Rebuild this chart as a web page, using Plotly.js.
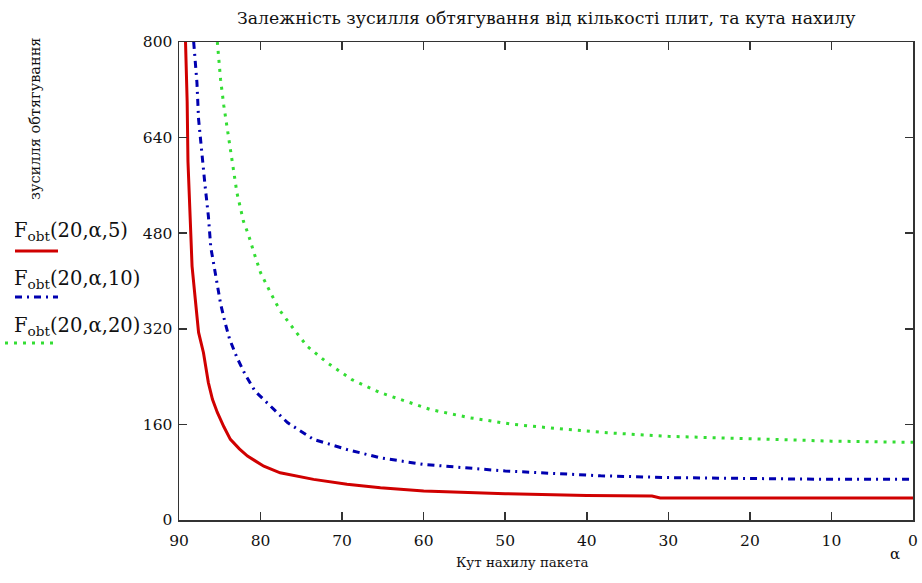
<!DOCTYPE html>
<html>
<head>
<meta charset="utf-8">
<script src="https://cdn.plot.ly/plotly-3.0.1.min.js"></script>
<style>html,body{margin:0;padding:0;background:#fff;}#chart{width:922px;height:583px;}</style>
</head>
<body>
<div id="chart"></div>
<script>
// Data
const alphaRed = [89.2, 89.0, 88.9, 88.6, 88.4, 88.0, 87.6, 87.0, 86.4, 85.9, 85.3, 84.5, 83.7, 82.6, 81.6, 79.6, 77.6, 73.5, 69.4, 65.3, 60, 50, 40, 32, 31, 0];
const fRed     = [800, 700, 600, 481, 425, 369, 314, 280, 230, 202, 180, 156, 135, 119, 107, 90, 79, 68, 60, 54, 48.5, 44, 41, 40, 37, 37];

const alphaBlue = [88.2, 87.8, 87.6, 87.2, 86.8, 86.4, 86.1, 85.7, 85.3, 84.9, 84.4, 83.8, 82.9, 81.9, 80.7, 76.7, 73.5, 69.4, 65.3, 60, 50, 38.3, 30, 20, 10, 0];
const fBlue     = [800, 732, 671, 609, 559, 509, 456, 425, 394, 362, 333, 303, 272, 244, 216, 163, 135, 118, 104, 93, 82, 74, 71, 69, 68, 68];

const alphaGreen = [85.3, 84.9, 84.5, 84.0, 83.5, 82.9, 82.1, 81.5, 80.8, 80.0, 78.8, 77.6, 75.9, 74.3, 71.8, 68.8, 65.3, 59.2, 54.3, 49.0, 42.8, 37.5, 30, 17.9, 10, 0];
const fGreen     = [800, 737, 693, 645, 598, 548, 500, 478, 447, 414, 381, 350, 319, 291, 263, 235, 213, 185, 171, 160, 152, 146, 140, 135, 132, 130];

const seriesLabels = ['F<sub>obt</sub>(20,α,5)', 'F<sub>obt</sub>(20,α,10)', 'F<sub>obt</sub>(20,α,20)'];
const xTicks = [90, 80, 70, 60, 50, 40, 30, 20, 10, 0];
const yTicks = [0, 160, 320, 480, 640, 800];
const titleText = 'Залежність зусилля обтягування від кількості плит, та кута нахилу';
const xTitleText = 'Кут нахилу пакета';
const yTitleText = 'зусилля обтягування';

const W = 922, H = 583;
const M = {l: 179, r: 9, t: 42, b: 63};
const pw = W - M.l - M.r, ph = H - M.t - M.b;
const px = p => (p - M.l) / pw;
const py = p => (H - M.b - p) / ph;

const serif = 'DejaVu Serif, Liberation Serif, serif';
const colors = ['#d00000', '#0000b0', '#33dd33'];
const dashes = ['solid', '7px,5px,2px,5px', '3px,6px'];
const widths = [3, 3, 3];

const traces = [
  {x: alphaRed, y: fRed},
  {x: alphaBlue, y: fBlue},
  {x: alphaGreen, y: fGreen}
].map((d, i) => ({
  x: d.x, y: d.y, type: 'scatter', mode: 'lines',
  line: {color: colors[i], width: widths[i], dash: dashes[i]},
  showlegend: false, hoverinfo: 'skip'
}));

const legendTextY = [231, 279, 326];
const legendLineY = [251, 297, 343];
const legendLineX0 = [15, 15, 5];

const annotations = [
  {text: titleText, xref: 'paper', yref: 'paper', x: px(546), y: py(18), xanchor: 'center', yanchor: 'middle', showarrow: false, font: {family: serif, size: 17.3, color: '#111'}},
  {text: xTitleText, xref: 'paper', yref: 'paper', x: px(522), y: py(562), xanchor: 'center', yanchor: 'middle', showarrow: false, font: {family: serif, size: 13.4, color: '#111'}},
  {text: 'α', xref: 'paper', yref: 'paper', x: px(895), y: py(554), xanchor: 'center', yanchor: 'middle', showarrow: false, font: {family: serif, size: 15, color: '#111'}},
  {text: yTitleText, xref: 'paper', yref: 'paper', x: px(35), y: py(119), xanchor: 'center', yanchor: 'middle', textangle: -90, showarrow: false, font: {family: serif, size: 14.5, color: '#111'}}
];
seriesLabels.forEach((t, i) => annotations.push({
  text: t, xref: 'paper', yref: 'paper', x: px(12), y: py(legendTextY[i]), xanchor: 'left', yanchor: 'middle',
  showarrow: false, font: {family: serif, size: 19.5, color: '#111'}
}));

const shapes = seriesLabels.map((t, i) => ({
  type: 'line', xref: 'paper', yref: 'paper',
  x0: px(legendLineX0[i]), x1: px(58), y0: py(legendLineY[i]), y1: py(legendLineY[i]),
  line: {color: colors[i], width: 3, dash: dashes[i]}
}));

const axisCommon = {
  showgrid: false, zeroline: false, showline: true, mirror: 'ticks',
  linecolor: '#333', linewidth: 1.5, ticks: 'inside', ticklen: 8, tickwidth: 1.5, tickcolor: '#333',
  tickfont: {family: serif, size: 15.5, color: '#111'}, fixedrange: true
};

const layout = {
  width: W, height: H, margin: M,
  paper_bgcolor: '#fff', plot_bgcolor: '#fff',
  xaxis: Object.assign({}, axisCommon, {range: [90, 0], tickmode: 'array', tickvals: xTicks, ticktext: xTicks.map(String), ticklabelstandoff: 6}),
  yaxis: Object.assign({}, axisCommon, {range: [0, 800], tickmode: 'array', tickvals: yTicks, ticktext: yTicks.map(String), ticklabelstandoff: 2}),
  annotations: annotations, shapes: shapes, showlegend: false
};

Plotly.newPlot('chart', traces, layout, {displayModeBar: false, staticPlot: true});
</script>
</body>
</html>
